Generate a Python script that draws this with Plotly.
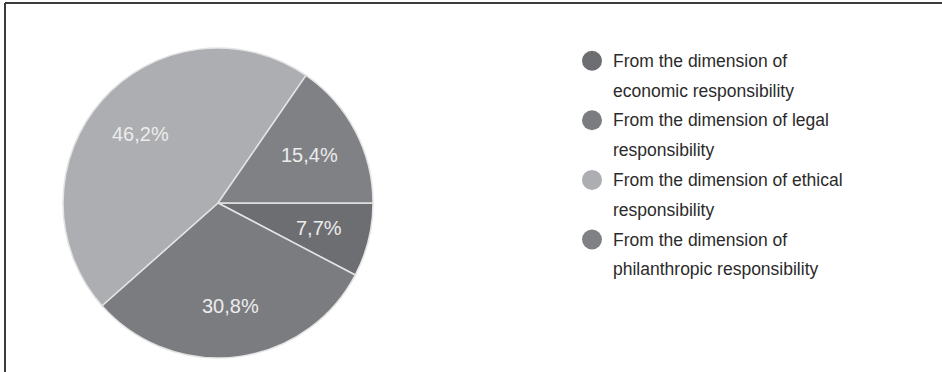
import math
import plotly.graph_objects as go

# Data
categories = [
    "From the dimension of economic responsibility",
    "From the dimension of legal responsibility",
    "From the dimension of ethical responsibility",
    "From the dimension of philanthropic responsibility",
]
legend_lines = [
    ["From the dimension of", "economic responsibility"],
    ["From the dimension of legal", "responsibility"],
    ["From the dimension of ethical", "responsibility"],
    ["From the dimension of", "philanthropic responsibility"],
]
counts = [1, 4, 6, 2]
slice_colors = ["#6d6e72", "#7b7c80", "#adaeb1", "#808185"]

W, H = 942, 372
cx, cy, r = 218, 203, 155
label_frac = 0.67
font_family = "Liberation Sans, Arial, sans-serif"

fig = go.Figure()
fig.add_trace(go.Pie(
    labels=categories,
    values=counts,
    sort=False,
    direction="clockwise",
    rotation=90,
    marker=dict(colors=slice_colors, line=dict(color="#e4e4e4", width=1.5)),
    textposition="none",
    domain=dict(x=[(cx - r) / W, (cx + r) / W], y=[1 - (cy + r) / H, 1 - (cy - r) / H]),
    showlegend=False,
    hoverinfo="label+percent",
))

shapes = []
annotations = []

# slice labels placed along each slice's mid angle (clockwise from 3 o'clock)
total = sum(counts)
cum = 0
for v in counts:
    mid = (cum + v / 2) / total * 2 * math.pi
    cum += v
    px = cx + label_frac * r * math.cos(mid)
    py = cy + label_frac * r * math.sin(mid)
    txt = f"{v / total * 100:.1f}%".replace(".", ",")
    annotations.append(dict(text=txt, xref="paper", yref="paper",
                            x=px / W, y=1 - py / H, xanchor="center", yanchor="middle",
                            showarrow=False,
                            font=dict(family=font_family, size=20, color="#ececec")))

item_top = 60.7
line_pitch = 29.8
for i, lines in enumerate(legend_lines):
    y0 = item_top + i * 2 * line_pitch
    shapes.append(dict(type="circle", xref="paper", yref="paper",
                       x0=(592 - 10) / W, x1=(592 + 10) / W,
                       y0=1 - (y0 + 10) / H, y1=1 - (y0 - 10) / H,
                       fillcolor=slice_colors[i], line=dict(width=0)))
    for j, t in enumerate(lines):
        annotations.append(dict(text=t, xref="paper", yref="paper",
                                x=611 / W, y=1 - (y0 + j * line_pitch) / H,
                                xanchor="left", yanchor="middle", showarrow=False,
                                font=dict(family=font_family, size=17.5, color="#2b2b2b")))

# frame lines (left and top)
shapes.append(dict(type="line", xref="paper", yref="paper",
                   x0=5 / W, x1=5 / W, y0=0, y1=1 - 3 / H,
                   line=dict(color="#3c3c3c", width=2)))
shapes.append(dict(type="line", xref="paper", yref="paper",
                   x0=5 / W, x1=1, y0=1 - 3 / H, y1=1 - 3 / H,
                   line=dict(color="#3c3c3c", width=2)))

fig.update_layout(
    width=W, height=H,
    margin=dict(l=0, r=0, t=0, b=0),
    paper_bgcolor="white",
    plot_bgcolor="white",
    shapes=shapes,
    annotations=annotations,
    font=dict(family=font_family),
)

fig.write_html("out.html")
